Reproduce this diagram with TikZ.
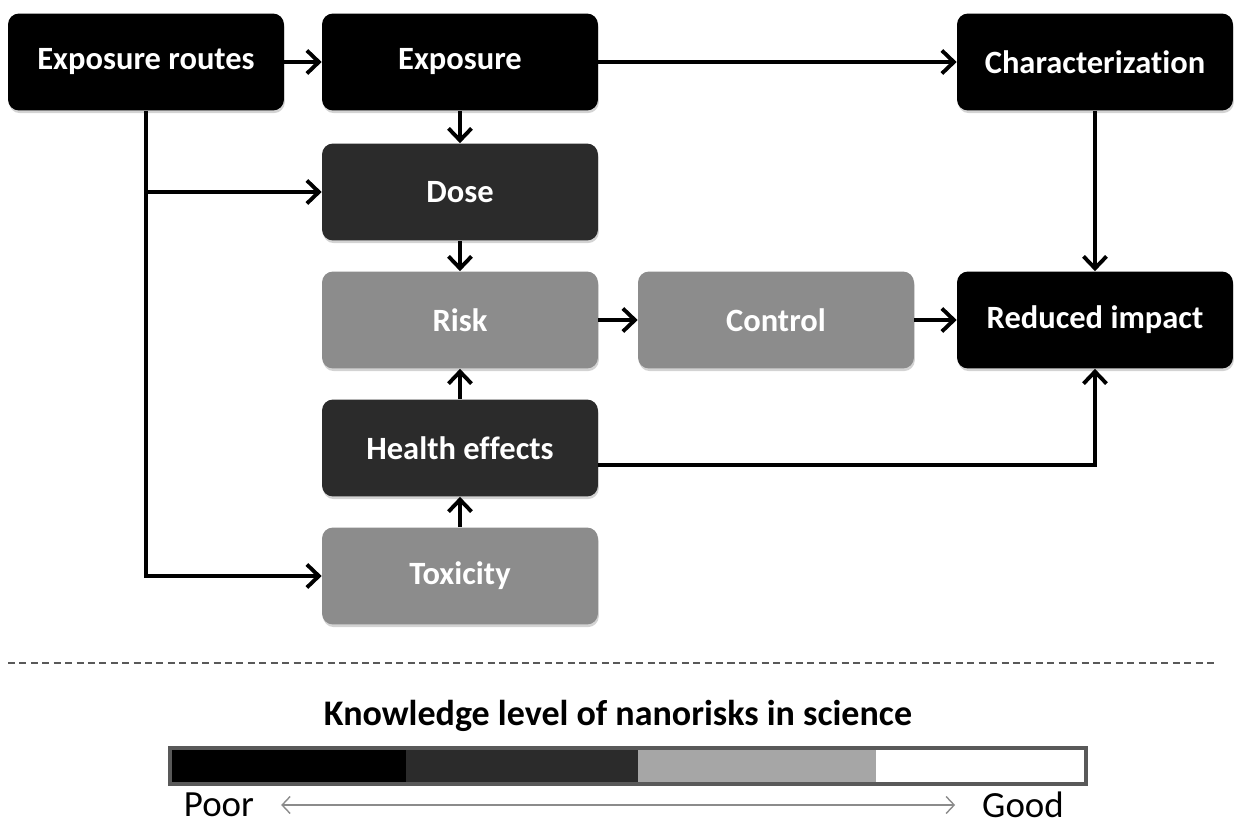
\documentclass[tikz,border=0pt]{standalone}
\usepackage{fontspec}
\setmainfont{Carlito}[Ligatures=NoCommon]
\usetikzlibrary{arrows.meta, shadows}

\definecolor{poorcol}{HTML}{000000}
\definecolor{weakcol}{HTML}{2B2B2B}
\definecolor{faircol}{HTML}{8C8C8C}
\definecolor{barfair}{HTML}{A6A6A6}
\definecolor{barline}{HTML}{595959}

\begin{document}
\begin{tikzpicture}[x=0.02cm, y=-0.02cm,
    box/.style={rounded corners=0.22cm, minimum width=5.52cm, minimum height=1.94cm,
      inner sep=0, text=white, font=\bfseries\fontsize{18.5}{21}\selectfont,
      drop shadow={opacity=0.35, shadow xshift=0.5pt, shadow yshift=-1.5pt}},
    link/.style={line width=2.2pt, -{Straight Barb[length=2.4mm, width=4.6mm, line width=2.2pt]}},
    seg/.style={minimum height=0.72cm, inner sep=0, outer sep=0}]

    \useasboundingbox (0, 0) rectangle (1235, 825);

    % Boxes, top row
    \node[box, fill=poorcol] (ER) at (146, 62) {Exposure routes};
    \node[box, fill=poorcol] (EX) at (460, 62) {Exposure};
    \node[box, fill=poorcol] (CH) at (1095, 62) {Characterization};

    % Boxes, middle column
    \node[box, fill=weakcol] (DO) at (460, 192) {Dose};
    \node[box, fill=faircol] (RI) at (460, 320) {Risk};
    \node[box, fill=weakcol] (HE) at (460, 448) {Health effects};
    \node[box, fill=faircol] (TX) at (460, 576) {Toxicity};

    % Boxes, right
    \node[box, fill=faircol] (CO) at (776, 320) {Control};
    \node[box, fill=poorcol] (RE) at (1095, 320) {Reduced impact};

    % Connectors
    \draw[link] (ER) -- (EX);
    \draw[link] (EX) -- (CH);
    \draw[link] (EX) -- (DO);
    \draw[link] (DO) -- (RI);
    \draw[link] (HE) -- (RI);
    \draw[link] (TX) -- (HE);
    \draw[link] (RI) -- (CO);
    \draw[link] (CO) -- (RE);
    \draw[link] (CH) -- (RE);
    \draw[link] ([yshift=-0.34cm]HE.east) -| (RE.south);
    \draw[link] (ER.south) |- (TX.west);
    \draw[link] (ER.south |- DO.west) -- (DO.west);

    % Separator
    \coordinate (sepL) at (8, 663);
    \coordinate (sepR) at (1215, 663);
    \draw[barline, line width=0.9pt, dash pattern=on 4pt off 2.5pt] (sepL) -- (sepR);

    % Legend
    \node[font=\bfseries\fontsize{20.5}{24}\selectfont] (title) at (618, 716)
      {Knowledge level of nanorisks in science};
    \node[seg, fill=poorcol, minimum width=4.72cm] (s1) at (288, 766) {};
    \node[seg, fill=weakcol, minimum width=4.64cm] (s2) at (522, 766) {};
    \node[seg, fill=barfair, minimum width=4.76cm] (s3) at (757, 766) {};
    \node[seg, fill=white, minimum width=4.20cm] (s4) at (981, 766) {};
    \draw[barline, line width=1.8pt] (s1.north west) rectangle (s4.south east);

    \node[font=\fontsize{21}{24}\selectfont, inner sep=1pt] (poor) at (219, 805) {Poor};
    \node[font=\fontsize{21}{24}\selectfont, inner sep=1pt] (good) at (1023, 805) {Good};
    \draw[barline!70, line width=0.8pt,
      {Straight Barb[length=1.6mm, width=3.4mm]}-{Straight Barb[length=1.6mm, width=3.4mm]},
      shorten <=0.5cm, shorten >=0.5cm] (poor) -- (good);

\end{tikzpicture}
\end{document}
